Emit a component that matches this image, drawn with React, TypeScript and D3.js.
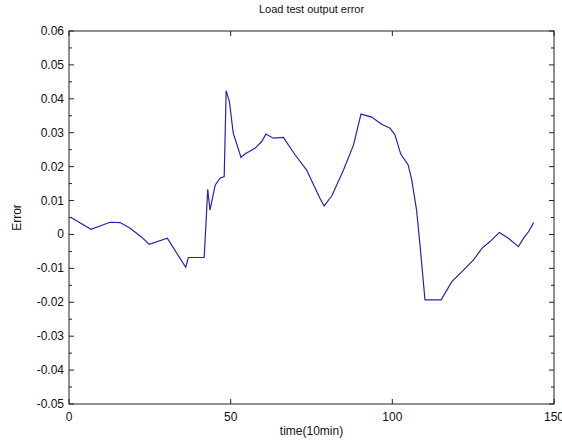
import { useRef, useEffect } from "react";
import * as d3 from "d3";

// time index (10 min steps) and output error
const timeIdx = [0.5, 6.8, 12.7, 15.8, 18.9, 22.5, 24.8, 30.4, 36.1, 36.9, 41.8, 42.4, 42.9, 43.6, 45.2, 46.7, 48.0, 48.6, 49.6, 50.8, 53.2, 54.4, 57.5, 59.6, 60.9, 63.2, 66.3, 69.9, 73.5, 77.6, 78.9, 81.3, 84.9, 88.0, 90.3, 93.6, 96.7, 99.3, 100.8, 102.6, 104.9, 106.0, 107.5, 108.6, 110.1, 115.1, 118.4, 122.0, 125.1, 127.7, 130.2, 133.1, 135.9, 139.0, 140.6, 142.1, 143.7];
const errorVals = [0.0051, 0.0015, 0.0036, 0.0035, 0.0018, -0.0008, -0.0029, -0.0011, -0.0097, -0.0068, -0.0068, 0.0038, 0.0133, 0.0072, 0.0145, 0.0166, 0.0171, 0.0424, 0.0392, 0.0299, 0.0227, 0.0237, 0.0254, 0.0274, 0.0296, 0.0284, 0.0286, 0.0235, 0.019, 0.0107, 0.0084, 0.0114, 0.019, 0.0264, 0.0355, 0.0346, 0.0325, 0.0313, 0.0294, 0.0237, 0.0205, 0.0161, 0.0072, -0.0036, -0.0193, -0.0193, -0.0139, -0.0105, -0.0075, -0.0041, -0.0021, 0.0006, -0.0011, -0.0036, -0.0011, 0.0008, 0.0035];
const xTicks = [0, 50, 100, 150];
const yTicks = [0.06, 0.05, 0.04, 0.03, 0.02, 0.01, 0, -0.01, -0.02, -0.03, -0.04, -0.05];

export default function App() {
  const svgRef = useRef<SVGSVGElement>(null);

  useEffect(() => {
    const svg = d3.select(svgRef.current);
    svg.selectAll("*").remove();

    const width = 562;
    const height = 441;
    const margin = { top: 31, right: 8, bottom: 37, left: 69 };
    const font = "Liberation Sans, Arial, sans-serif";

    const x = d3.scaleLinear().domain([0, 150]).range([margin.left, width - margin.right]);
    const y = d3.scaleLinear().domain([-0.05, 0.06]).range([height - margin.bottom, margin.top]);

    const x0 = x.range()[0], x1 = x.range()[1];
    const y0 = y.range()[0], y1 = y.range()[1];

    // plot box
    svg.append("rect")
      .attr("x", x0).attr("y", y1)
      .attr("width", x1 - x0).attr("height", y0 - y1)
      .attr("fill", "#fff").attr("stroke", "#222").attr("stroke-width", 1);

    // y ticks (major + minor), inward on both sides
    const minor = d3.range(-0.05, 0.0601, 0.005);
    minor.forEach(v => {
      const isMajor = Math.abs(Math.round(v * 100) - v * 100) < 1e-6;
      const len = isMajor ? 5 : 3;
      svg.append("line").attr("x1", x0).attr("x2", x0 + len)
        .attr("y1", y(v)).attr("y2", y(v)).attr("stroke", "#222");
      svg.append("line").attr("x1", x1).attr("x2", x1 - len)
        .attr("y1", y(v)).attr("y2", y(v)).attr("stroke", "#222");
    });

    svg.selectAll(".ylab").data(yTicks).enter().append("text")
      .attr("x", x0 - 5).attr("y", d => y(d) + 4)
      .attr("text-anchor", "end")
      .style("font-family", font).style("font-size", "12px").style("fill", "#111")
      .text(d => (d === 0 ? "0" : d3.format(".2f")(d).replace("−", "-")));

    // x ticks
    xTicks.forEach(v => {
      svg.append("line").attr("x1", x(v)).attr("x2", x(v))
        .attr("y1", y0).attr("y2", y0 - 5).attr("stroke", "#222");
      svg.append("line").attr("x1", x(v)).attr("x2", x(v))
        .attr("y1", y1).attr("y2", y1 + 5).attr("stroke", "#222");
    });
    svg.selectAll(".xlab").data(xTicks).enter().append("text")
      .attr("x", d => x(d)).attr("y", y0 + 17)
      .attr("text-anchor", "middle")
      .style("font-family", font).style("font-size", "12px").style("fill", "#111")
      .text(d => d);

    // line
    const pts = timeIdx.map((t, i) => [t, errorVals[i]] as [number, number]);
    svg.append("path")
      .datum(pts)
      .attr("fill", "none")
      .attr("stroke", "#2424b4")
      .attr("stroke-width", 1.2)
      .attr("d", d3.line<[number, number]>().x(d => x(d[0])).y(d => y(d[1])));

    // title and axis labels
    svg.append("text")
      .attr("x", (x0 + x1) / 2).attr("y", 13)
      .attr("text-anchor", "middle")
      .style("font-family", font).style("font-size", "11px").style("fill", "#111")
      .text("Load test output error");

    svg.append("text")
      .attr("x", (x0 + x1) / 2).attr("y", 435)
      .attr("text-anchor", "middle")
      .style("font-family", font).style("font-size", "12px").style("fill", "#111")
      .text("time(10min)");

    svg.append("text")
      .attr("transform", `translate(21,${(y0 + y1) / 2}) rotate(-90)`)
      .attr("text-anchor", "middle")
      .style("font-family", font).style("font-size", "12px").style("fill", "#111")
      .text("Error");
  }, []);

  return (
    <svg
      ref={svgRef}
      width={562}
      height={441}
      style={{ position: "absolute", left: 0, top: 0, background: "#fff" }}
    />
  );
}
